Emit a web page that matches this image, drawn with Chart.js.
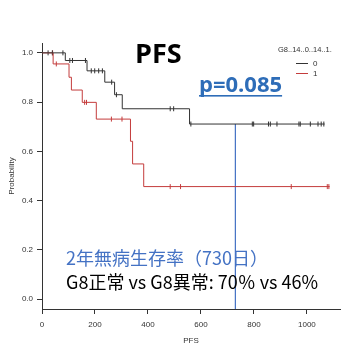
<!DOCTYPE html>
<html>
<head>
<meta charset="utf-8">
<script src="https://cdn.jsdelivr.net/npm/chart.js@4.4.0/dist/chart.umd.min.js"></script>
<style>
  body { margin: 0; background: #fff; }
  canvas { display: block; }
</style>
</head>
<body>
<canvas id="chartJSContainer" width="362" height="362"></canvas>
<script>
  // G8 normal (0)
  var normTimes = [0, 88, 170, 237, 274, 303, 557, 1067]
  var normSurv = [1.0, 0.969, 0.927, 0.881, 0.830, 0.773, 0.711, 0.711]
  var normCensor = [23, 39, 79, 105, 115, 164, 186, 199, 214, 228, 263, 281, 484, 497, 562, 794, 799, 855, 862, 887, 970, 975, 1013, 1042, 1054, 1064]

  // G8 abnormal (1)
  var abnTimes = [0, 42, 102, 111, 152, 205, 334, 342, 384, 1086]
  var abnSurv = [1.0, 0.955, 0.901, 0.849, 0.799, 0.731, 0.641, 0.549, 0.457, 0.457]
  var abnCensor = [40, 54, 161, 168, 262, 302, 484, 523, 941, 1077, 1083]

  var xTicks = [0, 200, 400, 600, 800, 1000]
  var yTicks = [0.0, 0.2, 0.4, 0.6, 0.8, 1.0]
  var landmarkDay = 730

  var pText = 'p=0.085'
  var legendTitle = 'G8..14..0..14..1.'
  var legendLabels = ['0', '1']
  var noteLine1 = '2年無病生存率（730日）'
  var noteLine2 = 'G8正常 vs G8異常: 70％ vs 46%'

  var colBlack = '#333333'
  var colRed = '#c43c3c'
  var colBlue = '#4472c4'

  function survAt(times, surv, t) {
    let s = surv[0]
    for (let i = 0; i < times.length; i++) {
      if (times[i] <= t) s = surv[i]
    }
    return s
  }
  function curve(times, surv) {
    return times.map((t, i) => ({ x: t, y: surv[i] }))
  }
  function marks(times, surv, cens) {
    return cens.map(t => ({ x: t, y: survAt(times, surv, t) }))
  }

  var textPlugin = {
    id: 'texts',
    afterDraw(chart) {
      let c = chart.ctx
      c.save()
      c.textAlign = 'left'
      c.textBaseline = 'alphabetic'
      c.fillStyle = '#000'
      c.font = 'bold 27px "Open Sans"'
      c.fillText('PFS', 135, 63)

      c.fillStyle = '#2e6db8'
      c.font = 'bold 22px "Open Sans"'
      c.fillText(pText, 199, 92)
      let w = c.measureText(pText).width
      c.fillRect(199, 95, w, 1.6)

      c.fillStyle = colBlack
      c.textBaseline = 'middle'
      c.font = '7.5px "Liberation Sans"'
      c.fillText(legendTitle, 278, 50)
      let ly = [63, 73]
      let lc = [colBlack, colRed]
      for (let i = 0; i < 2; i++) {
        c.strokeStyle = lc[i]
        c.lineWidth = 1
        c.beginPath()
        c.moveTo(296, ly[i] + 0.5)
        c.lineTo(308, ly[i] + 0.5)
        c.stroke()
        c.fillStyle = colBlack
        c.font = '8px "Liberation Sans"'
        c.fillText(legendLabels[i], 313, ly[i] + 1)
      }

      c.font = '18px "Noto Sans CJK JP"'
      c.fillStyle = colBlue
      c.fillText(noteLine1, 66, 258)
      c.fillStyle = '#000'
      c.fillText(noteLine2, 66, 282)
      c.restore()
    }
  }

  var landY = survAt(normTimes, normSurv, landmarkDay)

  var options = {
    type: 'scatter',
    data: {
      datasets: [
        {
          data: curve(normTimes, normSurv),
          showLine: true, stepped: 'before',
          borderColor: colBlack, borderWidth: 1, pointRadius: 0
        },
        {
          data: curve(abnTimes, abnSurv),
          showLine: true, stepped: 'before',
          borderColor: colRed, borderWidth: 1, pointRadius: 0
        },
        {
          data: marks(normTimes, normSurv, normCensor),
          pointStyle: 'line', rotation: 90, radius: 2.5,
          borderColor: colBlack, borderWidth: 1
        },
        {
          data: marks(abnTimes, abnSurv, abnCensor),
          pointStyle: 'line', rotation: 90, radius: 2.5,
          borderColor: colRed, borderWidth: 1
        },
        {
          data: [{ x: landmarkDay, y: landY }, { x: landmarkDay, y: -0.04 }],
          showLine: true, borderColor: colBlue, borderWidth: 1.2, pointRadius: 0
        }
      ]
    },
    options: {
      responsive: false,
      animation: false,
      layout: { padding: { top: 43, right: 22, left: 0, bottom: 0 } },
      plugins: { legend: { display: false }, tooltip: { enabled: false } },
      scales: {
        x: {
          type: 'linear', min: 0, max: 1125,
          afterBuildTicks: s => { s.ticks = xTicks.map(v => ({ value: v })) },
          afterFit: s => { s.height = 53 },
          grid: { drawOnChartArea: false, tickLength: 5, color: colBlack },
          border: { color: colBlack, width: 1 },
          ticks: { font: { family: 'Liberation Sans', size: 8 }, color: colBlack, padding: 6, maxRotation: 0, callback: v => String(v) },
          title: { display: true, text: 'PFS', font: { family: 'Liberation Sans', size: 8 }, color: colBlack, padding: { top: 0, bottom: 16 } }
        },
        y: {
          type: 'linear', min: -0.04, max: 1.04,
          afterBuildTicks: s => { s.ticks = yTicks.map(v => ({ value: v })) },
          afterFit: s => { s.width = 42 },
          grid: { drawOnChartArea: false, tickLength: 5, color: colBlack },
          border: { color: colBlack, width: 1 },
          ticks: { font: { family: 'Liberation Sans', size: 8 }, color: colBlack, padding: 4, callback: v => v.toFixed(1) },
          title: { display: true, text: 'Probability', font: { family: 'Liberation Sans', size: 8 }, color: colBlack, padding: { top: 7, bottom: 0 } }
        }
      }
    },
    plugins: [textPlugin]
  }

  var ctx = document.getElementById('chartJSContainer').getContext('2d')
  new Chart(ctx, options)
</script>
</body>
</html>
